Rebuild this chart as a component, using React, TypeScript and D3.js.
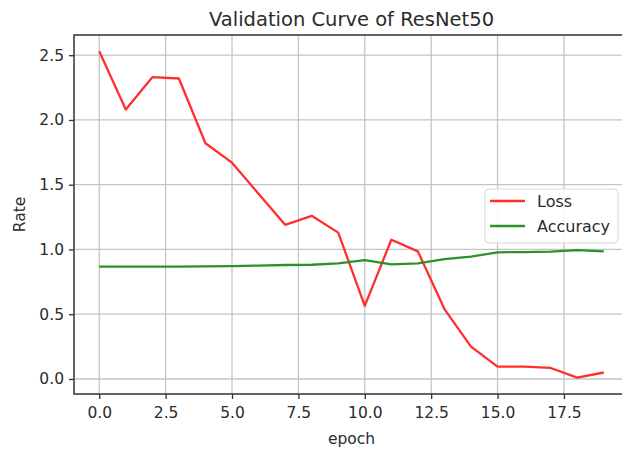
import React, { useEffect, useRef } from "react";
import * as d3 from "d3";

// validation metrics per epoch
const epochs = d3.range(0, 20);
const lossValues = [
  2.53, 2.08, 2.33, 2.32, 1.82, 1.67, 1.43, 1.19, 1.26, 1.13, 0.565, 1.075,
  0.985, 0.54, 0.25, 0.095, 0.095, 0.085, 0.01, 0.05,
];
const accuracyValues = [
  0.868, 0.868, 0.868, 0.868, 0.869, 0.872, 0.875, 0.88, 0.882, 0.892, 0.918,
  0.885, 0.893, 0.925, 0.945, 0.978, 0.98, 0.983, 0.995, 0.985,
];
const seriesNames = ["Loss", "Accuracy"];
const seriesColors = ["#ff2f2f", "#2a922a"];
const xTicks = [0, 2.5, 5, 7.5, 10, 12.5, 15, 17.5];
const yTicks = [0, 0.5, 1, 1.5, 2, 2.5];

const FONT = "DejaVu Sans, sans-serif";

const App = () => {
  const chartRef = useRef<SVGSVGElement>(null);

  useEffect(() => {
    const W = 622;
    const H = 450;
    const margin = { top: 35, right: -7, bottom: 56, left: 74 };
    const width = W - margin.left - margin.right;
    const height = H - margin.top - margin.bottom;

    const svg = d3.select(chartRef.current);
    svg.selectAll("*").remove();

    const g = svg
      .append("g")
      .attr("transform", `translate(${margin.left},${margin.top})`);

    const series = [lossValues, accuracyValues];
    const all = series.flat();
    const yMin = d3.min(all) as number;
    const yMax = d3.max(all) as number;
    const yPad = (yMax - yMin) * 0.05;
    const xPad = (epochs[epochs.length - 1] - epochs[0]) * 0.05;

    const x = d3
      .scaleLinear()
      .domain([epochs[0] - xPad, epochs[epochs.length - 1] + xPad])
      .range([0, width]);
    const y = d3
      .scaleLinear()
      .domain([yMin - yPad, yMax + yPad])
      .range([height, 0]);

    // grid
    g.append("g")
      .selectAll("line")
      .data(xTicks)
      .enter()
      .append("line")
      .attr("x1", (d) => x(d))
      .attr("x2", (d) => x(d))
      .attr("y1", 0)
      .attr("y2", height)
      .attr("stroke", "#c4c4c4")
      .attr("stroke-width", 1.3);
    g.append("g")
      .selectAll("line")
      .data(yTicks)
      .enter()
      .append("line")
      .attr("x1", 0)
      .attr("x2", width)
      .attr("y1", (d) => y(d))
      .attr("y2", (d) => y(d))
      .attr("stroke", "#c4c4c4")
      .attr("stroke-width", 1.3);

    // lines
    const line = d3
      .line<number>()
      .x((_, i) => x(epochs[i]))
      .y((d) => y(d));
    series.forEach((vals, i) => {
      g.append("path")
        .datum(vals)
        .attr("fill", "none")
        .attr("stroke", seriesColors[i])
        .attr("stroke-width", 2.3)
        .attr("stroke-linejoin", "round")
        .attr("d", line);
    });

    // axes
    const xAxis = g
      .append("g")
      .attr("transform", `translate(0,${height})`)
      .call(
        d3
          .axisBottom(x)
          .tickValues(xTicks)
          .tickFormat(d3.format(".1f"))
          .tickSize(5)
          .tickPadding(8)
          .tickSizeOuter(0)
      );
    const yAxis = g.append("g").call(
      d3
        .axisLeft(y)
        .tickValues(yTicks)
        .tickFormat(d3.format(".1f"))
        .tickSize(5)
        .tickPadding(5)
        .tickSizeOuter(0)
    );
    [xAxis, yAxis].forEach((ax) => {
      ax.selectAll("text")
        .attr("font-family", FONT)
        .attr("font-size", 15.5)
        .attr("fill", "#2b2b2b");
      ax.selectAll("line").attr("stroke", "#333").attr("stroke-width", 1.3);
      ax.select(".domain").remove();
    });

    // spines (right one falls outside the picture)
    g.append("rect")
      .attr("x", 0)
      .attr("y", 0)
      .attr("width", width)
      .attr("height", height)
      .attr("fill", "none")
      .attr("stroke", "#333")
      .attr("stroke-width", 1.5);

    // legend
    const lg = g.append("g").attr("transform", `translate(${411},${154})`);
    lg.append("rect")
      .attr("width", 133)
      .attr("height", 54)
      .attr("rx", 4)
      .attr("fill", "white")
      .attr("fill-opacity", 0.85)
      .attr("stroke", "#d6d6d6");
    seriesNames.forEach((name, i) => {
      const cy = 12 + i * 25;
      lg.append("line")
        .attr("x1", 5)
        .attr("x2", 40)
        .attr("y1", cy)
        .attr("y2", cy)
        .attr("stroke", seriesColors[i])
        .attr("stroke-width", 2.3);
      lg.append("text")
        .attr("x", 52)
        .attr("y", cy + 5.5)
        .attr("font-family", FONT)
        .attr("font-size", 16)
        .attr("fill", "#2b2b2b")
        .text(name);
    });

    // labels
    svg
      .append("text")
      .attr("x", margin.left + width / 2)
      .attr("y", 26)
      .attr("text-anchor", "middle")
      .attr("font-family", FONT)
      .attr("font-size", 19.5)
      .attr("fill", "#2b2b2b")
      .text("Validation Curve of ResNet50");
    svg
      .append("text")
      .attr("x", margin.left + width / 2)
      .attr("y", 444)
      .attr("text-anchor", "middle")
      .attr("font-family", FONT)
      .attr("font-size", 15.5)
      .attr("fill", "#2b2b2b")
      .text("epoch");
    svg
      .append("text")
      .attr("transform", `translate(25,${margin.top + height / 2}) rotate(-90)`)
      .attr("text-anchor", "middle")
      .attr("font-family", FONT)
      .attr("font-size", 15.5)
      .attr("fill", "#2b2b2b")
      .text("Rate");
  }, []);

  return (
    <svg
      ref={chartRef}
      width={622}
      height={450}
      style={{ position: "absolute", left: 0, top: 0, background: "white" }}
    ></svg>
  );
};

export default App;
